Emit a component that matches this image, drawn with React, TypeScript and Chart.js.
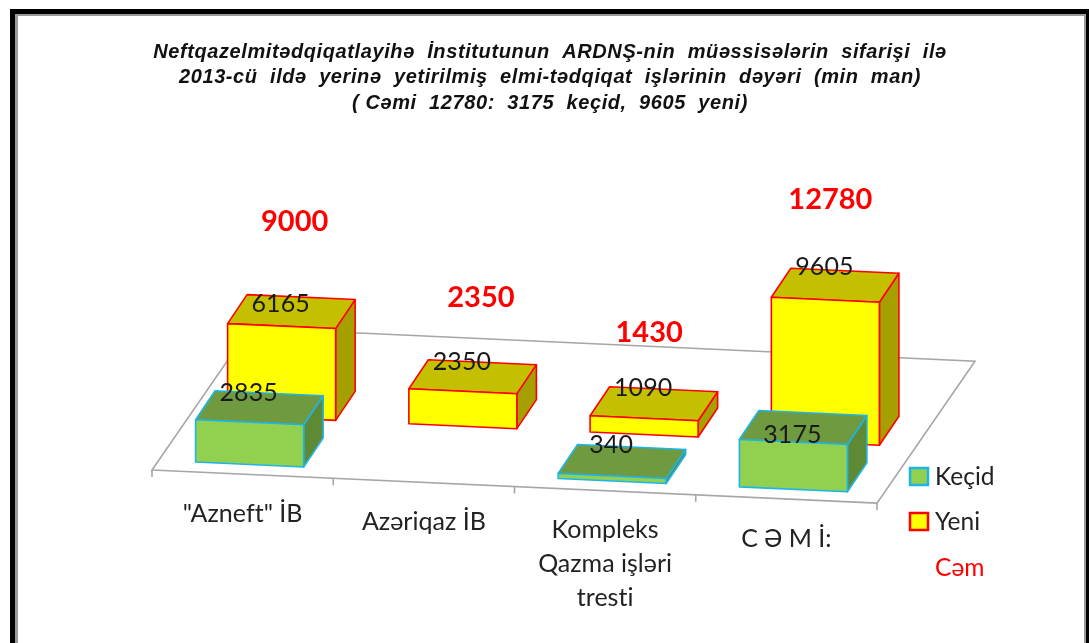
import React, { useEffect, useRef } from "react";
import { Chart, BarController, BarElement, CategoryScale, LinearScale } from "chart.js";

// ---- data ----
const categories = [['"Azneft" İB'], ["Azəriqaz İB"], ["Kompleks", "Qazma işləri", "tresti"], ["C Ə M İ:"]];
const kecid = [2835, null, 340, 3175];
const yeni = [6165, 2350, 1090, 9605];
const cem = [9000, 2350, 1430, 12780];
const titleLines = [
  "Neftqazelmitədqiqatlayihə  İnstitutunun  ARDNŞ-nin  müəssisələrin  sifarişi  ilə",
  "2013-cü  ildə  yerinə  yetirilmiş  elmi-tədqiqat  işlərinin  dəyəri  (min  man)",
  "( Cəmi  12780:  3175  keçid,  9605  yeni)",
];

// ---- layout and style ----
const W = 1089;
const H = 643;
const AREA = { left: 152, right: 877, top: 120, bottom: 470 };
const SHEAR = 0.0457;
const DEPTH = { x: 19.5, y: -29 };
const FLOOR_DEPTH = { x: 98, y: -142 };
const LABEL_FONT = '"Lato", sans-serif';
const kecidLabelRise = [29, 30, 31, 7];
const yeniLabelRise = [22, 29, 30, 33];
const cemLabelRise = [62, 94, 81, 53];
const cemLabelShift = [13, 18, 5, 5];

class Box3DController extends BarController {
  static id = "box3d";
  static defaults = { ...BarController.defaults };
  draw() {
    const ctx = this.chart.ctx;
    const ds: any = this.getDataset();
    if (!ds.faces) return;
    const left = this.chart.chartArea.left;
    const rects: any[] = this._cachedMeta.data as any[];
    rects.forEach((el, i) => {
      if (ds.data[i] === null) return;
      const x0 = el.x - el.width / 2 + ds.rowDx;
      const x1 = el.x + el.width / 2 + ds.rowDx;
      const py = (x: number, y: number) => y + SHEAR * (x - left) - ds.rowLift;
      const front = [[x0, py(x0, el.y)], [x1, py(x1, el.y)], [x1, py(x1, el.base)], [x0, py(x0, el.base)]];
      const side = [front[1], [x1 + DEPTH.x, py(x1, el.y) + DEPTH.y], [x1 + DEPTH.x, py(x1, el.base) + DEPTH.y], front[2]];
      const top = [front[0], [x0 + DEPTH.x, py(x0, el.y) + DEPTH.y], [x1 + DEPTH.x, py(x1, el.y) + DEPTH.y], front[1]];
      const face = (pts: number[][], fill: string) => {
        ctx.beginPath();
        pts.forEach((p, k) => (k ? ctx.lineTo(p[0], p[1]) : ctx.moveTo(p[0], p[1])));
        ctx.closePath();
        ctx.fillStyle = fill;
        ctx.fill();
        ctx.strokeStyle = ds.borderColor;
        ctx.lineWidth = 1.6;
        ctx.lineJoin = "round";
        ctx.stroke();
      };
      face(side, ds.faces.side);
      face(top, ds.faces.top);
      face(front, ds.faces.front);
    });
  }
}

Chart.register(BarElement, CategoryScale, LinearScale, Box3DController);

const scene = {
  id: "scene",
  beforeDraw(chart: any) {
    const { ctx, chartArea: a, scales } = chart;
    // page and frame
    ctx.save();
    ctx.fillStyle = "#ffffff";
    ctx.fillRect(0, 0, W, H);
    ctx.fillStyle = "#000000";
    ctx.fillRect(10, 9, 5, H);
    ctx.fillRect(10, 9, 1079, 5);
    ctx.fillRect(1086, 9, 3, H);
    ctx.fillStyle = "#9a9a9a";
    ctx.fillRect(15, 14, 3, H);
    ctx.fillRect(15, 14, 1071, 2);
    ctx.fillRect(1084, 14, 2, H);

    // title
    ctx.fillStyle = "#111111";
    ctx.font = 'italic bold 20px "Liberation Sans", sans-serif';
    ctx.letterSpacing = "0.6px";
    ctx.textAlign = "center";
    ctx.textBaseline = "middle";
    titleLines.forEach((t, i) => ctx.fillText(t, 550, 52 + i * 25.7));

    // floor
    const sy = (x: number) => a.bottom + SHEAR * (x - a.left);
    ctx.strokeStyle = "#a6a6a6";
    ctx.lineWidth = 1.6;
    ctx.beginPath();
    ctx.moveTo(a.left, a.bottom);
    ctx.lineTo(a.right, sy(a.right));
    ctx.lineTo(a.right + FLOOR_DEPTH.x, sy(a.right) + FLOOR_DEPTH.y);
    ctx.lineTo(a.left + FLOOR_DEPTH.x, a.bottom + FLOOR_DEPTH.y);
    ctx.closePath();
    ctx.stroke();
    for (let i = 0; i <= categories.length; i++) {
      const x = a.left + (i * (a.right - a.left)) / categories.length;
      ctx.beginPath();
      ctx.moveTo(x, sy(x));
      ctx.lineTo(x, sy(x) + 7);
      ctx.stroke();
    }

    // category labels (a tiny letter spacing switches the font's ligatures off)
    ctx.letterSpacing = "0.01px";
    ctx.fillStyle = "#222222";
    ctx.font = `25px ${LABEL_FONT}`;
    categories.forEach((lines, i) => {
      const x = scales.x.getPixelForValue(i);
      lines.forEach((t, k) => ctx.fillText(t, x, sy(x) + 39.5 + k * 34));
    });

    // legend
    const ds = chart.data.datasets;
    [0, 1].forEach((d) => {
      const y = 468 + d * 45;
      ctx.fillStyle = ds[d].faces.front;
      ctx.strokeStyle = ds[d].borderColor;
      ctx.lineWidth = 2.5;
      ctx.fillRect(910, y, 18, 17);
      ctx.strokeRect(910, y, 18, 17);
    });
    ctx.textAlign = "left";
    ctx.font = `24.5px ${LABEL_FONT}`;
    ctx.fillStyle = "#222222";
    ctx.fillText(ds[0].label, 935, 477);
    ctx.fillText(ds[1].label, 935, 522);
    ctx.fillStyle = "#ff0000";
    ctx.fillText(ds[2].label, 935, 568);
    ctx.letterSpacing = "0px";
    ctx.restore();
  },
  afterDatasetsDraw(chart: any) {
    const { ctx, chartArea: a } = chart;
    ctx.save();
    ctx.textAlign = "center";
    ctx.textBaseline = "middle";
    const rises = [kecidLabelRise, yeniLabelRise, cemLabelRise];
    chart.data.datasets.forEach((ds: any, d: number) => {
      const meta = chart.getDatasetMeta(d);
      meta.data.forEach((el: any, i: number) => {
        if (ds.data[i] === null) return;
        const x = el.x + ds.rowDx;
        const y = el.y + SHEAR * (x - a.left) - ds.rowLift - rises[d][i];
        if (d === 2) {
          ctx.font = `bold 29px ${LABEL_FONT}`;
          ctx.fillStyle = "#ff0000";
          ctx.fillText(String(ds.data[i]), x + cemLabelShift[i], y);
        } else {
          ctx.font = `25px ${LABEL_FONT}`;
          ctx.fillStyle = "#1a1a1a";
          ctx.fillText(String(ds.data[i]), x - 1, y);
        }
      });
    });
    ctx.restore();
  },
};

export default function App() {
  const ref = useRef<HTMLCanvasElement>(null);
  useEffect(() => {
    const chart = new Chart(ref.current as HTMLCanvasElement, {
      type: "box3d" as any,
      data: {
        labels: categories.map((c) => c.join(" ")),
        datasets: [
          {
            label: "Keçid",
            data: kecid,
            order: 1,
            clip: false,
            grouped: false,
            barPercentage: 0.596,
            categoryPercentage: 1,
            borderColor: "#1fb4e6",
            faces: { front: "#92d050", top: "#6f9a40", side: "#5f8a35" },
            rowDx: 7,
            rowLift: 10,
          },
          {
            label: "Yeni",
            data: yeni,
            order: 2,
            clip: false,
            grouped: false,
            barPercentage: 0.596,
            categoryPercentage: 1,
            borderColor: "#ff0000",
            faces: { front: "#ffff00", top: "#c4c000", side: "#a5a000" },
            rowDx: 39,
            rowLift: 58,
          },
          {
            label: "Cəm",
            data: cem,
            order: 3,
            clip: false,
            grouped: false,
            barPercentage: 0.596,
            categoryPercentage: 1,
            borderColor: "#ff0000",
            rowDx: 39,
            rowLift: 58,
          },
        ] as any,
      },
      options: {
        animation: false,
        responsive: false,
        layout: {
          padding: { left: AREA.left, right: W - AREA.right, top: AREA.top, bottom: H - AREA.bottom },
        },
        plugins: { legend: { display: false }, title: { display: false }, tooltip: { enabled: false } },
        scales: {
          x: { type: "category", offset: true, display: false },
          y: { type: "linear", min: 0, max: 23500, display: false },
        },
      },
      plugins: [scene],
    });
    return () => chart.destroy();
  }, []);
  return (
    <canvas
      ref={ref}
      width={W}
      height={H}
      style={{ position: "fixed", left: 0, top: 0, width: W, height: H, display: "block" }}
    />
  );
}
